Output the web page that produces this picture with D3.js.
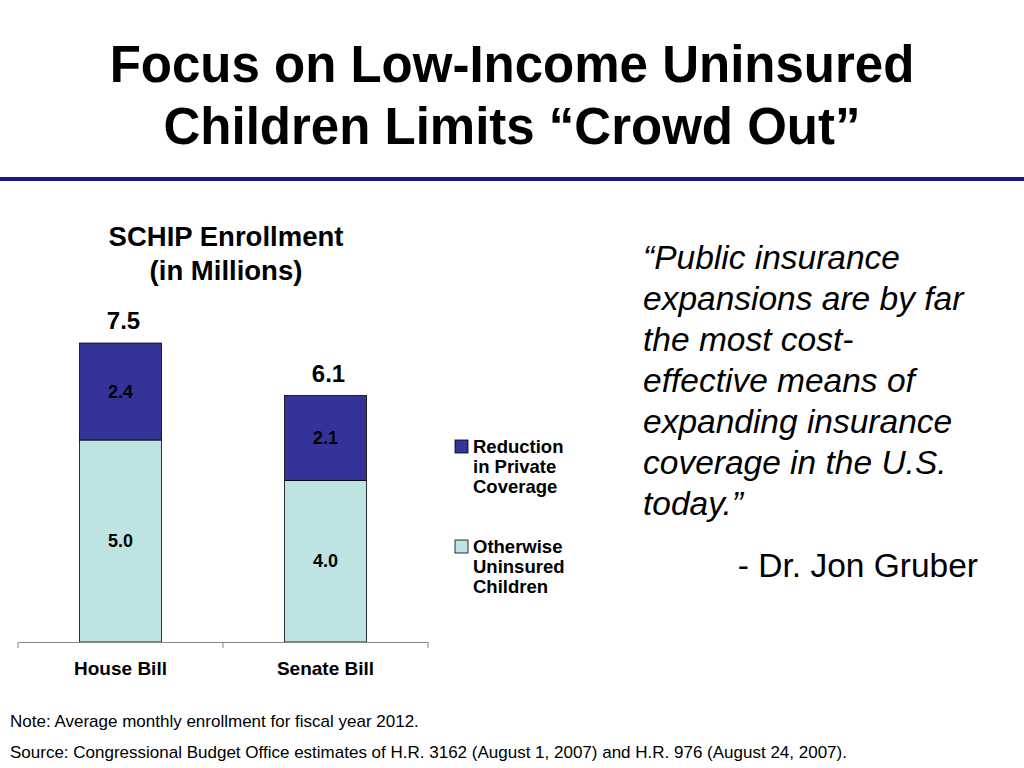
<!DOCTYPE html>
<html><head><meta charset="utf-8">
<script src="https://cdn.jsdelivr.net/npm/d3@7"></script>
<style>body{margin:0;background:#fff}svg{font-family:Arial,"Liberation Sans",sans-serif}</style>
</head><body>
<script>
const categories = ["House Bill", "Senate Bill"];
const seriesNames = ["Otherwise Uninsured Children", "Reduction in Private Coverage"];
const otherwise = [5.0, 4.0];
const reduction = [2.4, 2.1];
const totals = ["7.5", "6.1"];
const quoteLines = ["\u201cPublic insurance", "expansions are by far", "the most cost-", "effective means of", "expanding insurance", "coverage in the U.S.", "today.\u201d"];

const svg = d3.select("body").append("svg").attr("width", 1024).attr("height", 768);

svg.append("text").attr("x", 512).attr("y", 82).attr("text-anchor", "middle")
  .attr("font-size", 51).attr("font-weight", "bold").text("Focus on Low-Income Uninsured");
svg.append("text").attr("x", 512).attr("y", 144).attr("text-anchor", "middle")
  .attr("font-size", 51).attr("font-weight", "bold").text("Children Limits \u201cCrowd Out\u201d");
svg.append("rect").attr("x", 0).attr("y", 177).attr("width", 1024).attr("height", 4).attr("fill", "#1a1a80");

svg.append("text").attr("x", 226).attr("y", 246).attr("text-anchor", "middle").attr("font-size", 27.5).attr("font-weight", "bold").text("SCHIP Enrollment");
svg.append("text").attr("x", 226).attr("y", 280).attr("text-anchor", "middle").attr("font-size", 27.5).attr("font-weight", "bold").text("(in Millions)");

const x = d3.scaleBand().domain(categories).range([18, 428]).paddingInner(0.6).paddingOuter(0.3);
const y = d3.scaleLinear().domain([0, 7.5]).range([642, 339]);

const stacked = d3.stack().keys([0, 1]).value((d, k) => d[k])(categories.map((c, i) => [otherwise[i], reduction[i]]));
const colors = ["#bde3e3", "#333399"];
const g = svg.append("g");
stacked.forEach((s, si) => {
  g.selectAll(null).data(s).join("rect")
    .attr("x", (d, i) => x(categories[i])).attr("width", x.bandwidth())
    .attr("y", d => y(d[1])).attr("height", d => y(d[0]) - y(d[1]))
    .attr("fill", colors[si]).attr("stroke", "#000").attr("stroke-width", 0.8);
  g.selectAll(null).data(s).join("text")
    .attr("x", (d, i) => x(categories[i]) + x.bandwidth() / 2)
    .attr("y", d => (y(d[0]) + y(d[1])) / 2 + 6)
    .attr("text-anchor", "middle").attr("font-size", 18).attr("font-weight", "bold")
    .attr("fill", "#000").text(d => (d[1] - d[0]).toFixed(1));
});
g.selectAll(null).data(categories).join("text")
  .attr("x", c => x(c) + x.bandwidth() / 2 + 3)
  .attr("y", (c, i) => y(otherwise[i] + reduction[i]) - 14)
  .attr("text-anchor", "middle").attr("font-size", 24).attr("font-weight", "bold").text((c, i) => totals[i]);

const ax = svg.append("g").attr("transform", "translate(0,642)")
  .call(d3.axisBottom(x).tickSize(0).tickPadding(20));
ax.select(".domain").attr("stroke", "#888");
ax.selectAll("text").attr("font-size", 19).attr("font-weight", "bold").attr("fill", "#000")
  .attr("font-family", "Arial,'Liberation Sans',sans-serif");
[18, 223, 428].forEach(t => svg.append("line").attr("x1", t).attr("x2", t).attr("y1", 642).attr("y2", 648).attr("stroke", "#888"));

const legend = [
  {name: seriesNames[1], color: colors[1], y: 440, lines: ["Reduction", "in Private", "Coverage"]},
  {name: seriesNames[0], color: colors[0], y: 540, lines: ["Otherwise", "Uninsured", "Children"]}
];
legend.forEach(l => {
  svg.append("rect").attr("x", 455).attr("y", l.y).attr("width", 13).attr("height", 13)
    .attr("fill", l.color).attr("stroke", "#000").attr("stroke-width", 0.8);
  l.lines.forEach((t, i) => svg.append("text").attr("x", 473).attr("y", l.y + 13 + i * 20)
    .attr("font-size", 18.5).attr("font-weight", "bold").text(t));
});

quoteLines.forEach((t, i) => svg.append("text").attr("x", 643).attr("y", 269 + i * 41)
  .attr("font-size", 33.5).attr("font-style", "italic").text(t));
svg.append("text").attr("x", 978).attr("y", 577).attr("text-anchor", "end").attr("font-size", 33.5).text("- Dr. Jon Gruber");

svg.append("text").attr("x", 10).attr("y", 727).attr("font-size", 17).text("Note: Average monthly enrollment for fiscal year 2012.");
svg.append("text").attr("x", 10).attr("y", 758).attr("font-size", 17).text("Source: Congressional Budget Office estimates of H.R. 3162 (August 1, 2007) and H.R. 976 (August 24, 2007).");
</script>
</body></html>
